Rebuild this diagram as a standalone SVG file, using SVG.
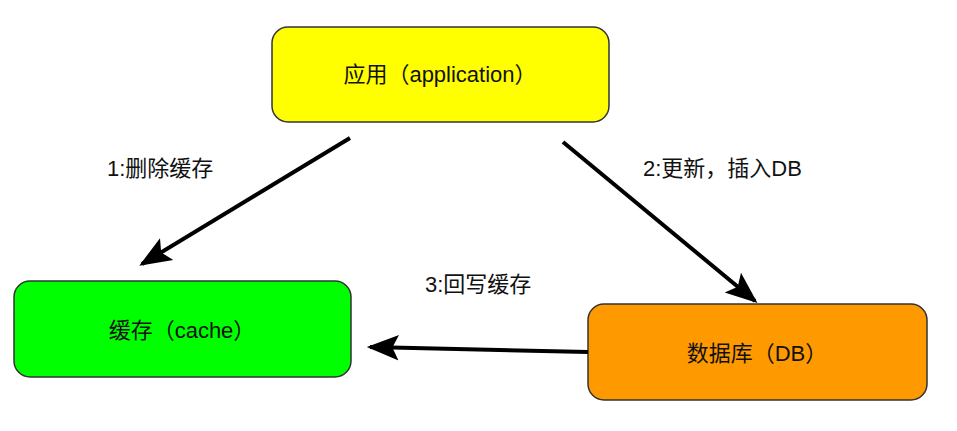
<svg xmlns="http://www.w3.org/2000/svg" width="957" height="431" viewBox="0 0 957 431">
<defs>
<style>
.node{stroke:#333;stroke-width:1.5}
.lbl{font-family:"Liberation Sans","Noto Sans CJK SC",sans-serif;font-size:22px;fill:#111}
.edge{stroke:#000;stroke-width:4;fill:none}
</style>
<marker id="ah" viewBox="0 0 10 10" refX="9" refY="5" markerWidth="8" markerHeight="8" markerUnits="strokeWidth" orient="auto">
<path d="M0,1 L10,5 L0,9 L2,5 Z" fill="#000"/>
</marker>
</defs>
<rect width="957" height="431" fill="#fff"/>
<g id="app">
<rect class="node" x="272" y="27" width="337" height="95" rx="16" fill="#ffff00"/>
<text class="lbl" x="440" y="82" text-anchor="middle">应用（application）</text>
</g>
<g id="cache">
<rect class="node" x="14" y="281" width="337" height="96" rx="16" fill="#00ff00"/>
<text class="lbl" x="182" y="338" text-anchor="middle">缓存（cache）</text>
</g>
<g id="db">
<rect class="node" x="588" y="304" width="339" height="96" rx="16" fill="#ff9900"/>
<text class="lbl" x="757" y="361" text-anchor="middle">数据库（DB）</text>
</g>
<g id="connectors">
<line class="edge" x1="350" y1="138" x2="142" y2="264" marker-end="url(#ah)"/>
<line class="edge" x1="563" y1="142" x2="755" y2="301" marker-end="url(#ah)"/>
<line class="edge" x1="588" y1="352" x2="370" y2="347" marker-end="url(#ah)"/>
<text class="lbl" x="107" y="176">1:删除缓存</text>
<text class="lbl" x="643" y="176">2:更新，插入DB</text>
<text class="lbl" x="425" y="292">3:回写缓存</text>
</g>
</svg>
